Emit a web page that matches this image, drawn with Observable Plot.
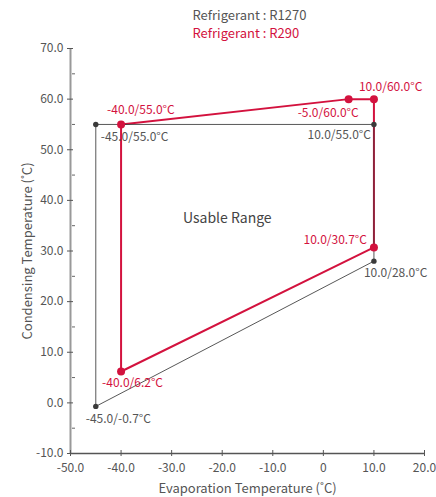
<!DOCTYPE html>
<html><head><meta charset="utf-8">
<script src="https://cdn.jsdelivr.net/npm/d3@7"></script>
<script src="https://cdn.jsdelivr.net/npm/@observablehq/plot@0.6"></script>
<style>body{margin:0;background:#fff;} svg{display:block;}</style>
</head><body><div id="chart"></div>
<script>
// R1270 envelope (evaporation, condensing)
const r1270Evap = [-45, 10, 10, -45];
const r1270Cond = [55, 55, 28, -0.7];
const r1270Labels = ["-45.0/55.0°C", "10.0/55.0°C", "10.0/28.0°C", "-45.0/-0.7°C"];
// R290 envelope (as plotted in the picture; the second point sits at about +5)
const r290Evap = [-40, 5, 10, 10, -40];
const r290Cond = [55, 60, 60, 30.7, 6.2];
const r290Labels = ["-40.0/55.0°C", "-5.0/60.0°C", "10.0/60.0°C", "10.0/30.7°C", "-40.0/6.2°C"];
const xTicks = [-50, -40, -30, -20, -10, 0, 10, 20];
const yTicks = [-10, 0, 10, 20, 30, 40, 50, 60, 70];
const yMinor = [-5, 5, 15, 25, 35, 45, 55, 65];
const legendItems = ["Refrigerant : R1270", "Refrigerant : R290"];
const xTitle = "Evaporation Temperature (˚C)";
const yTitle = "Condensing Temperature (˚C)";
const areaLabel = {x: -19, y: 36.5, text: "Usable Range"};

const GRAY = "#3a3a3a", RED = "#d3123e", TXT = "#555";
const r1270 = r1270Evap.map((x, i) => ({x, y: r1270Cond[i], label: r1270Labels[i]}));
const r290 = r290Evap.map((x, i) => ({x, y: r290Cond[i], label: r290Labels[i]}));
const closed = a => [...a, a[0]];

// label offsets (style)
const off1270 = [{dx: 5, dy: 13, a: "start"}, {dx: -3, dy: 11, a: "end"}, {dx: -10, dy: 12, a: "start"}, {dx: -10, dy: 13, a: "start"}];
const off290 = [{dx: -14, dy: -14, a: "start"}, {dx: 10, dy: 14, a: "end"}, {dx: -15, dy: -12, a: "start"}, {dx: -7, dy: -7, a: "end"}, {dx: -19, dy: 12, a: "start"}];
const labelMarks = (data, offs, color) => data.map((d, i) => Plot.text([d], {
  x: "x", y: "y", text: "label", dx: offs[i].dx, dy: offs[i].dy, textAnchor: offs[i].a, fill: color, fontSize: 12
}));

const chart = Plot.plot({
  width: 436, height: 497,
  marginLeft: 70, marginRight: 12, marginTop: 48, marginBottom: 44,
  style: {fontFamily: "'Noto Sans CJK JP', 'Noto Sans', sans-serif", fontSize: "12px", color: TXT},
  x: {domain: [-50, 20]},
  y: {domain: [-10, 70]},
  marks: [
    Plot.ruleX([-50], {stroke: "#999", strokeWidth: 2}),
    Plot.ruleY([-10], {stroke: "#555", strokeWidth: 1.5}),
    Plot.axisY({ticks: yTicks, tickSize: 6, dx: 3, tickPadding: 4, tickFormat: d => d.toFixed(1), stroke: "#555", fill: TXT, label: null, fontSize: 12}),
    Plot.axisY({ticks: yMinor, tickSize: 3, dx: 5, text: null, label: null, stroke: "#666"}),
    Plot.axisX({ticks: xTicks, tickSize: 6, dy: -3, tickPadding: 7, tickFormat: d => d === 0 ? "0" : d.toFixed(1), stroke: "#555", fill: TXT, label: null, fontSize: 12}),
    Plot.text([xTitle], {frameAnchor: "bottom", text: d => d, textAnchor: "middle", lineAnchor: "middle", dy: 35, fontSize: 13, fill: TXT}),
    Plot.text([yTitle], {frameAnchor: "left", text: d => d, textAnchor: "middle", lineAnchor: "middle", rotate: -90, dx: -43, fontSize: 13, fill: TXT}),
    Plot.line(closed(r290), {x: "x", y: "y", stroke: RED, strokeWidth: 2}),
    Plot.line(closed(r1270), {x: "x", y: "y", stroke: GRAY, strokeWidth: 1, strokeOpacity: 0.85}),
    Plot.dot(r1270, {x: "x", y: "y", r: 2.7, fill: GRAY}),
    Plot.dot(r290, {x: "x", y: "y", r: 4, fill: RED}),
    ...labelMarks(r1270, off1270, TXT),
    ...labelMarks(r290, off290, RED),
    Plot.text([areaLabel], {x: "x", y: "y", text: "text", fontSize: 14, fill: "#444"}),
    Plot.text([legendItems[0]], {frameAnchor: "top", text: d => d, textAnchor: "start", lineAnchor: "middle", dx: -55, dy: -33, fontSize: 13, fill: TXT}),
    Plot.text([legendItems[1]], {frameAnchor: "top", text: d => d, textAnchor: "start", lineAnchor: "middle", dx: -55, dy: -15, fontSize: 13, fill: RED})
  ]
});
document.getElementById("chart").appendChild(chart);
</script></body></html>
